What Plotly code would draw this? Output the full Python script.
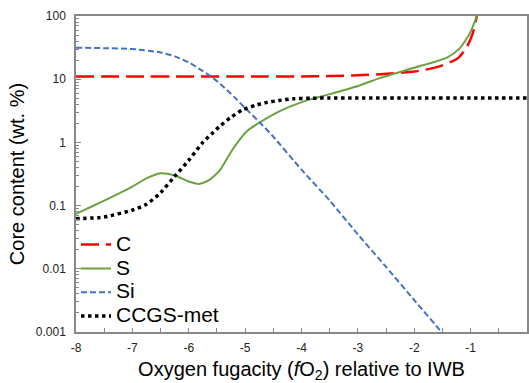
import plotly.graph_objects as go

# Data
c_x = [-8, -7, -6, -5, -4, -3.5, -3, -2.6, -2, -1.6, -1.24, -1.07, -0.96, -0.89]
c_y = [11, 11, 11, 11, 11, 11.2, 11.5, 12, 13.2, 15.5, 21, 32, 54, 100]

s_x = [-8, -7.5, -7, -6.75, -6.5, -6.25, -6.0, -5.82, -5.65, -5.45, -5.22, -4.97, -4.74, -4.33, -3.85, -3.5, -3.0, -2.6, -2.02, -1.42, -1.19, -1.01, -0.89]
s_y = [0.074, 0.12, 0.2, 0.27, 0.325, 0.3, 0.24, 0.22, 0.25, 0.36, 0.78, 1.5, 2.07, 3.3, 4.8, 5.8, 7.8, 10.5, 15, 22, 31, 54, 100]

si_x = [-8, -7.5, -7, -6.5, -6.25, -6, -5.8, -5.6, -5.4, -5.2, -5.0, -4.74, -4.5, -4.0, -3.5, -3.0, -2.5, -2.0, -1.5, -1.4]
si_y = [31.5, 31, 30, 26.5, 23, 18.5, 14.3, 11, 7.8, 5.3, 3.5, 2.07, 1.23, 0.37, 0.12, 0.035, 0.0107, 0.0032, 0.00095, 0.0007]

cc_x = [-8, -7.5, -7, -6.75, -6.5, -6.25, -6.0, -5.75, -5.6, -5.45, -5.25, -5.04, -4.8, -4.61, -4.4, -4.15, -3.8, -3.5, -3, -2, -1, 0]
cc_y = [0.062, 0.066, 0.085, 0.105, 0.16, 0.29, 0.52, 1.0, 1.35, 1.8, 2.5, 3.3, 3.9, 4.3, 4.6, 4.9, 5.0, 5.05, 5.05, 5.05, 5.05, 5.05]

series_names = ["C", "S", "Si", "CCGS-met"]
x_ticks = [-8, -7, -6, -5, -4, -3, -2, -1, 0]
y_ticks = [0.001, 0.01, 0.1, 1, 10, 100]
y_ticklabels = ["0.001", "0.01", "0.1", "1", "10", "100"]


def leg(name):
    return "<span style='font-size:21px'>" + name + "</span>"


fig = go.Figure()
fig.add_trace(go.Scatter(x=c_x, y=c_y, name=leg(series_names[0]), mode="lines",
                         line=dict(color="#FF0000", width=2.5, dash="18px,7px", shape="spline", smoothing=0.6)))
fig.add_trace(go.Scatter(x=s_x, y=s_y, name=leg(series_names[1]), mode="lines",
                         line=dict(color="#6AA23F", width=2, shape="spline", smoothing=0.6)))
fig.add_trace(go.Scatter(x=si_x, y=si_y, name=leg(series_names[2]), mode="lines",
                         line=dict(color="#4472C4", width=2, dash="6px,3px", shape="spline", smoothing=0.6)))
fig.add_trace(go.Scatter(x=cc_x, y=cc_y, name=leg(series_names[3]), mode="lines",
                         line=dict(color="#000000", width=3.5, dash="3.5px,3.5px", shape="spline", smoothing=0.6)))

axis_col = "#888888"
fig.update_layout(
    width=529, height=383,
    margin=dict(l=76, r=2, t=16, b=51, autoexpand=False),
    paper_bgcolor="white", plot_bgcolor="white",
    font=dict(family="Liberation Sans, Arial", color="#000000"),
    showlegend=True,
    legend=dict(x=0.0, y=0.33, xanchor="left", yanchor="top",
                font=dict(size=16), bgcolor="rgba(0,0,0,0)",
                tracegroupgap=0, itemwidth=30),
    xaxis=dict(range=[-8, 0], tickvals=x_ticks, ticktext=[str(v) for v in x_ticks],
               showgrid=False, zeroline=False, showline=True, linecolor=axis_col, linewidth=1.5,
               mirror=True, ticks="inside", ticklen=4, tickcolor=axis_col,
               minor=dict(dtick=0.5, ticks="inside", ticklen=4, tickcolor=axis_col, showgrid=False),
               tickfont=dict(size=12, color="#222222"), ticklabelstandoff=4,
               title=dict(text="Oxygen fugacity (<i>f</i>O<sub>2</sub>) relative to IWB",
                          font=dict(size=20), standoff=12)),
    yaxis=dict(type="log", range=[-3, 2], tickvals=y_ticks, ticktext=y_ticklabels,
               showgrid=False, zeroline=False, showline=True, linecolor=axis_col, linewidth=1.5,
               mirror=True, ticks="inside", ticklen=5, tickcolor=axis_col,
               minor=dict(dtick="D1", ticks="inside", ticklen=3, tickcolor=axis_col, showgrid=False),
               tickfont=dict(size=12, color="#222222"), ticklabelstandoff=6,
               title=dict(text="Core content (wt. %)", font=dict(size=20), standoff=6)),
)

fig.write_html("out.html", config={"displayModeBar": False},
               post_script="document.body.style.margin='0';")
